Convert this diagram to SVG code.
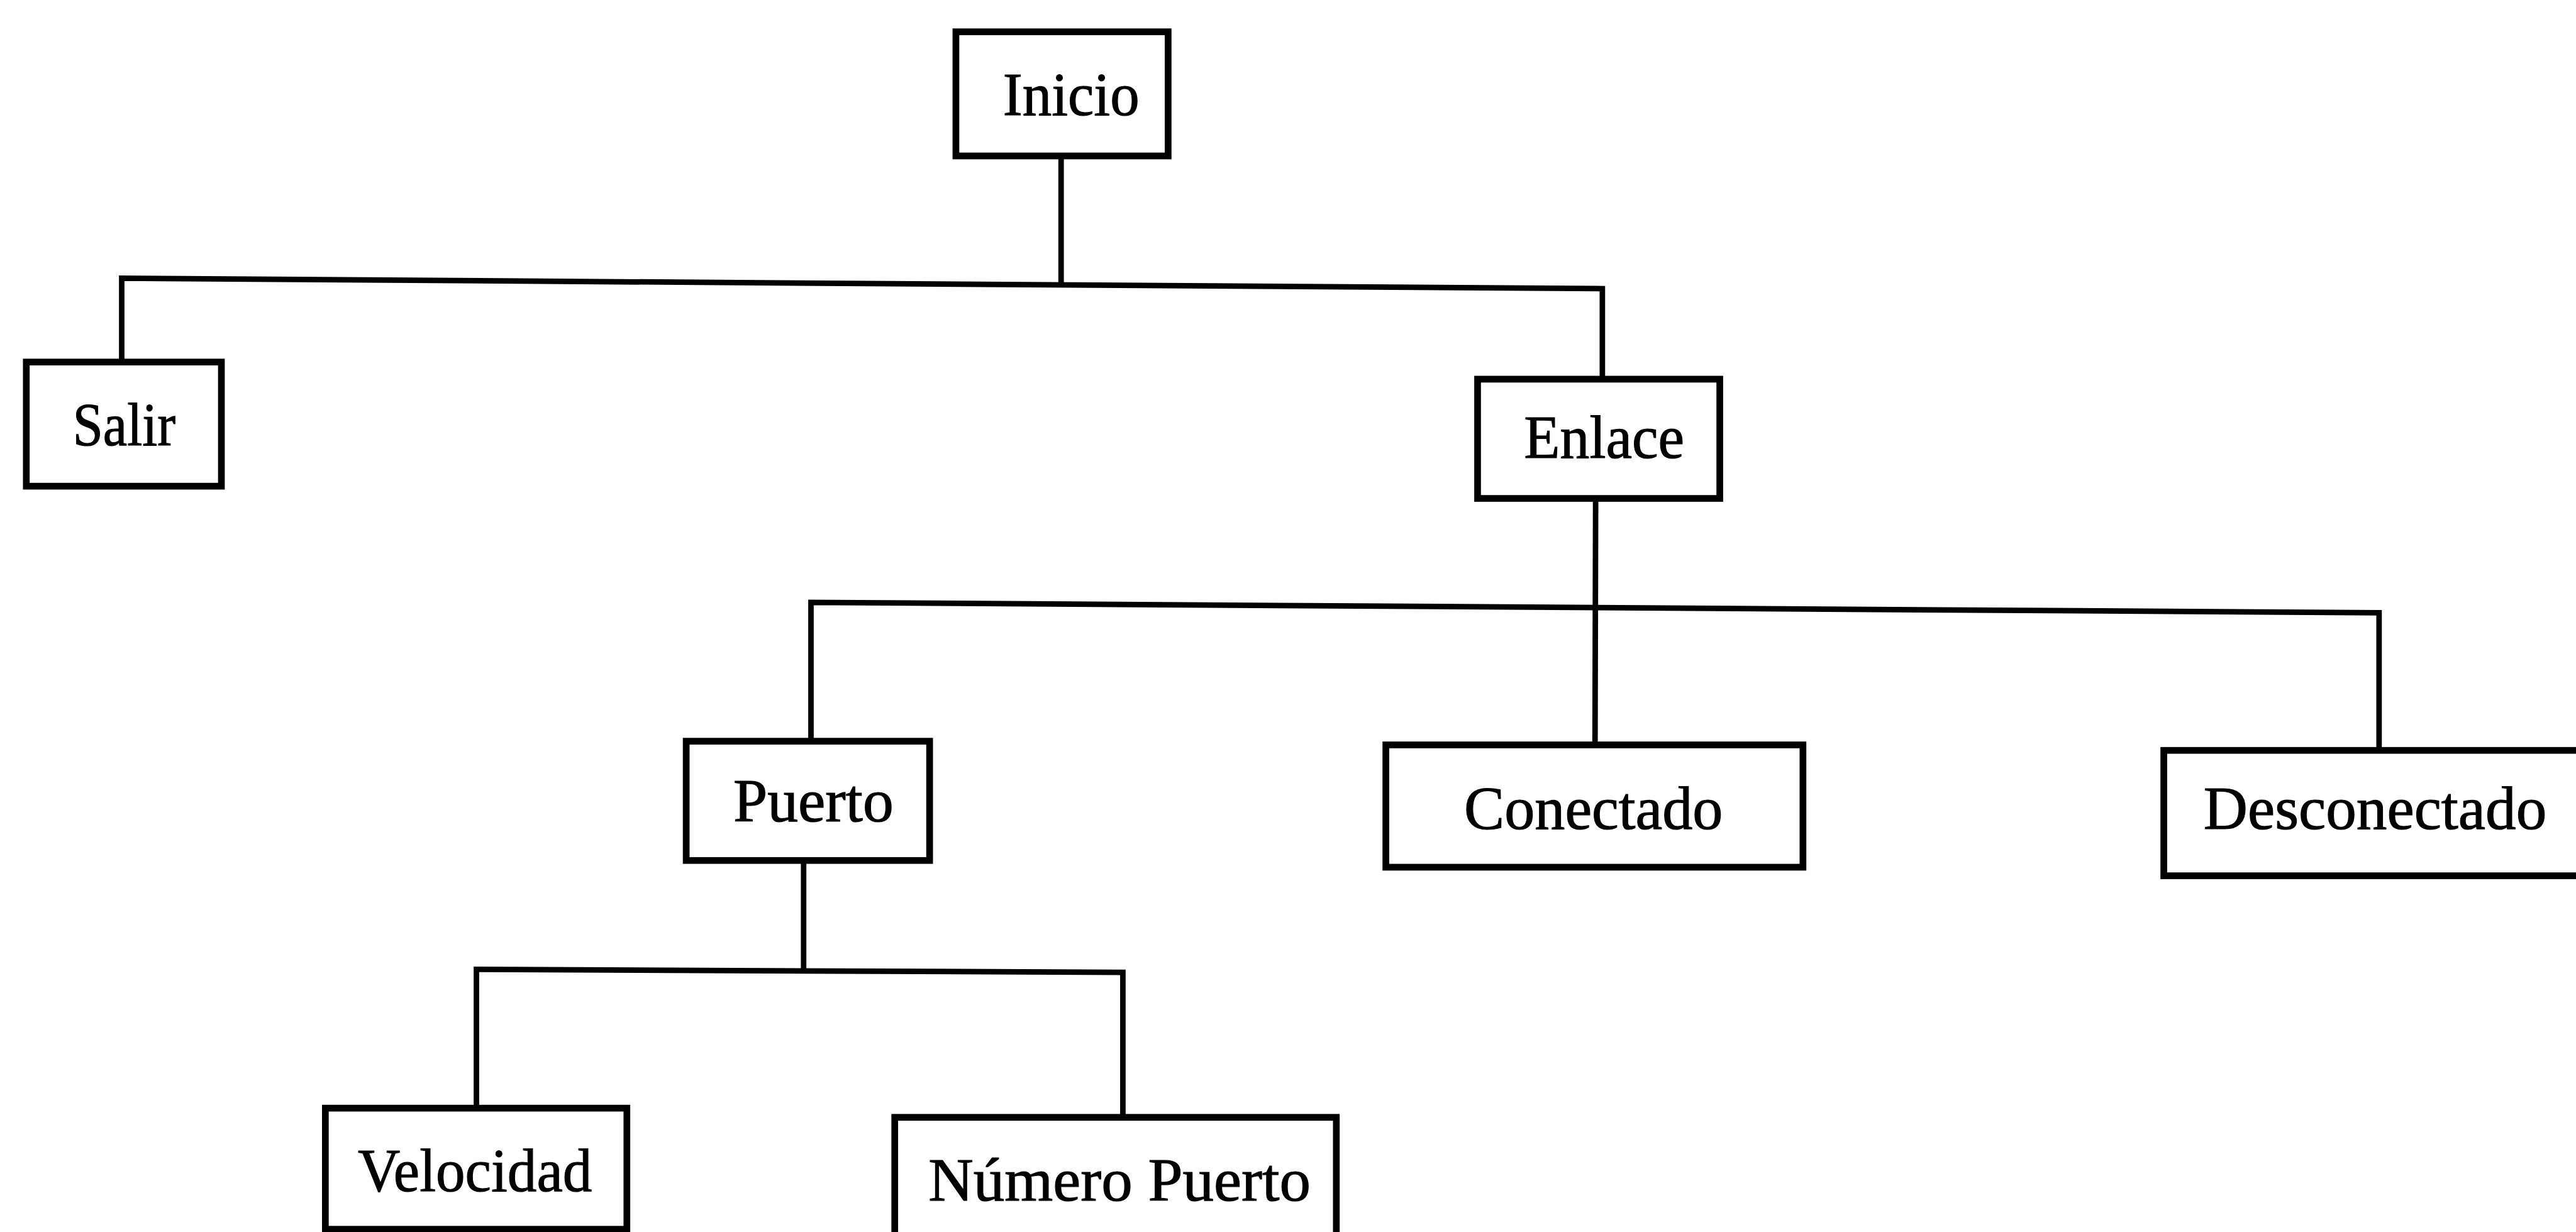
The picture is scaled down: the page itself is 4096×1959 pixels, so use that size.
<svg xmlns="http://www.w3.org/2000/svg" width="4096" height="1959" viewBox="0 0 4096 1959">
  <style>
    .box { fill: #ffffff; stroke: #000000; stroke-width: 11; }
    .link { fill: none; stroke: #000000; stroke-width: 9; stroke-linejoin: miter; stroke-linecap: square; }
    .label { font-family: "Liberation Serif", "Times New Roman", serif; font-size: 100px; fill: #000000; stroke: #000000; stroke-width: 1.2; }
  </style>
  <rect width="4096" height="1959" fill="#ffffff"/>
  <g transform="scale(0.97246)">
    <!-- tree connectors -->
    <g id="connectors">
      <line class="link" x1="1735" y1="260" x2="1735" y2="465"/>
      <polyline class="link" points="199,592 199,455 2620,472 2620,620"/>
      <line class="link" x1="2609" y1="820" x2="2608" y2="1218"/>
      <polyline class="link" points="1326,1212 1326,985 3890,1002 3890,1227"/>
      <line class="link" x1="1314" y1="1412" x2="1314" y2="1587"/>
      <polyline class="link" points="779,1812 779,1585 1836,1590 1836,1827"/>
    </g>

    <g id="inicio">
      <rect class="box" x="1563" y="52" width="347" height="203"/>
      <text class="label" x="1640" y="188" textLength="223" lengthAdjust="spacingAndGlyphs">Inicio</text>
    </g>
    <g id="salir">
      <rect class="box" x="43" y="592" width="319" height="203"/>
      <text class="label" x="119" y="728" textLength="168" lengthAdjust="spacingAndGlyphs">Salir</text>
    </g>
    <g id="enlace">
      <rect class="box" x="2416" y="620" width="396" height="195"/>
      <text class="label" x="2492" y="749" textLength="262" lengthAdjust="spacingAndGlyphs">Enlace</text>
    </g>
    <g id="puerto">
      <rect class="box" x="1122" y="1212" width="398" height="195"/>
      <text class="label" x="1199" y="1343" textLength="262" lengthAdjust="spacingAndGlyphs">Puerto</text>
    </g>
    <g id="conectado">
      <rect class="box" x="2266" y="1218" width="682" height="200"/>
      <text class="label" x="2394" y="1355" textLength="423" lengthAdjust="spacingAndGlyphs">Conectado</text>
    </g>
    <g id="desconectado">
      <rect class="box" x="3538" y="1227" width="700" height="205"/>
      <text class="label" x="3603" y="1355" textLength="561" lengthAdjust="spacingAndGlyphs">Desconectado</text>
    </g>
    <g id="velocidad">
      <rect class="box" x="532" y="1812" width="493" height="198"/>
      <text class="label" x="585" y="1948" textLength="383" lengthAdjust="spacingAndGlyphs">Velocidad</text>
    </g>
    <g id="numero-puerto">
      <rect class="box" x="1463" y="1827" width="722" height="213"/>
      <text class="label" x="1518" y="1963" textLength="625" lengthAdjust="spacingAndGlyphs">Número Puerto</text>
    </g>
  </g>
</svg>
